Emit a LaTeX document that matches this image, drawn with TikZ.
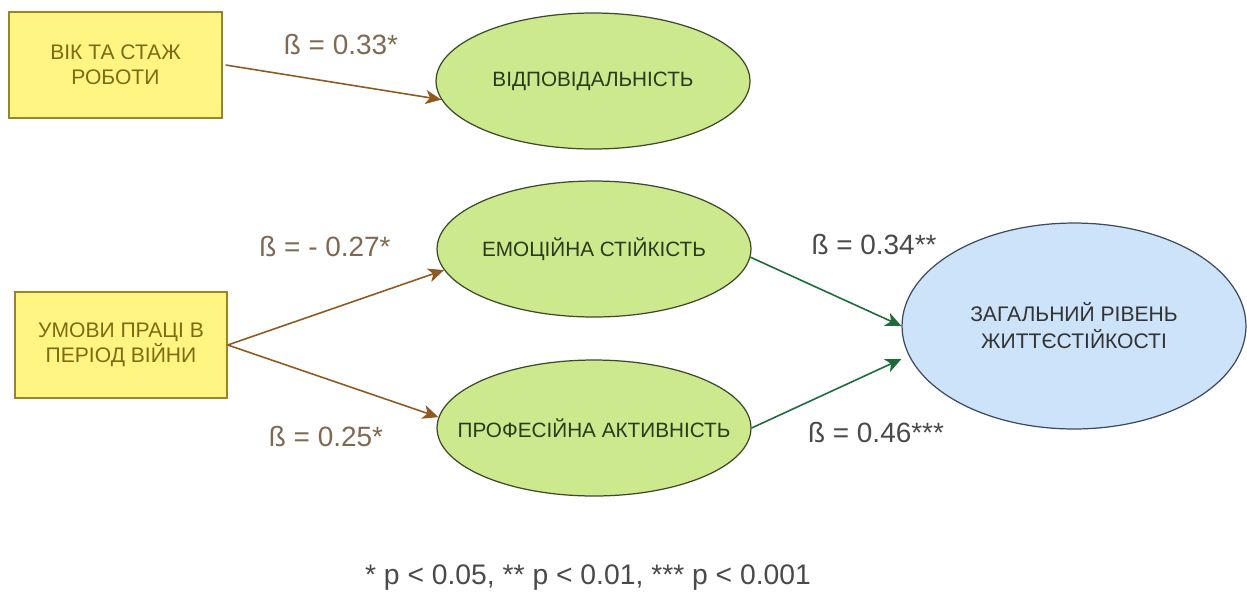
\documentclass[tikz,border=0pt]{standalone}
\usepackage{fontspec}
\setmainfont{Liberation Sans}
\usetikzlibrary{shapes.geometric,arrows.meta,calc}
\definecolor{boxfill}{HTML}{FFF583}
\definecolor{boxline}{HTML}{9A8526}
\definecolor{boxtext}{HTML}{7D6B12}
\definecolor{greenfill}{HTML}{CDE98E}
\definecolor{greenline}{HTML}{3C4A2A}
\definecolor{greentext}{HTML}{2A3A1C}
\definecolor{bluefill}{HTML}{CCE3FA}
\definecolor{blueline}{HTML}{3F4B5A}
\definecolor{bluetext}{HTML}{333333}
\definecolor{brownarrow}{HTML}{8F5A22}
\definecolor{greenarrow}{HTML}{1E6B3C}
\definecolor{brownlabel}{HTML}{7E6A52}
\definecolor{graylabel}{HTML}{4A4A4A}
\tikzset{
  factorbox/.style={draw=boxline, fill=boxfill, line width=0.8pt, rectangle,
    minimum width=4.26cm, minimum height=2.12cm, inner sep=0pt, align=center,
    text=boxtext, font=\fontsize{12}{14.2}\selectfont},
  greenell/.style={draw=greenline, fill=greenfill, line width=0.7pt, ellipse,
    minimum width=6.28cm, minimum height=2.72cm, inner sep=0pt, inner xsep=-2.5cm, align=center,
    text=greentext, font=\fontsize{11.8}{14}\selectfont},
  blueell/.style={draw=blueline, fill=bluefill, line width=0.7pt, ellipse,
    minimum width=6.88cm, minimum height=4.12cm, inner sep=0pt, align=center,
    text=bluetext, font=\fontsize{12}{15.3}\selectfont},
  brownarr/.style={draw=brownarrow, line width=0.9pt, -{Stealth[length=9pt,width=8pt,inset=2.5pt]}},
  greenarr/.style={draw=greenarrow, line width=0.9pt, -{Stealth[length=9pt,width=8pt,inset=2.5pt]}},
  betabrown/.style={text=brownlabel, font=\fontsize{15.9}{17}\selectfont, inner sep=0pt},
  betagray/.style={text=graylabel, font=\fontsize{15.9}{17}\selectfont, inner sep=0pt},
  footnote/.style={text=graylabel, font=\fontsize{16.1}{17}\selectfont, inner sep=0pt}
}
\begin{document}
\begin{tikzpicture}[x=0.02cm,y=-0.02cm]
\path[use as bounding box, fill=white] (0,0) rectangle (1247,596);

\node[factorbox] (b1) at (115.5,65) {ВІК ТА СТАЖ\\РОБОТИ};
\node[factorbox, minimum width=4.24cm] (b2) at (121,345) {УМОВИ ПРАЦІ В\\ПЕРІОД ВІЙНИ};

\node[greenell] (e1) at (593,81) {ВІДПОВІДАЛЬНІСТЬ};
\node[greenell] (e2) at (594,249) {ЕМОЦІЙНА СТІЙКІСТЬ};
\node[greenell] (e3) at (594,428) {ПРОФЕСІЙНА АКТИВНІСТЬ};
\node[blueell] (e4) at (1074,326) {ЗАГАЛЬНИЙ РІВЕНЬ\\ЖИТТЄСТІЙКОСТІ};

\draw[brownarr] ([xshift=0.06cm]b1.east) -- (e1.187);
\draw[brownarr] (b2.east) -- (e2.188);
\draw[brownarr] (b2.east) -- (e3.176);
\draw[greenarr] (e2.-3) -- (e4.west);
\draw[greenarr] (e3.east) -- ([yshift=-0.66cm]e4.west);

\node[betabrown] (l1) at (341,45) {ß = 0.33*};
\node[betabrown] (l2) at (325,247) {ß = - 0.27*};
\node[betabrown] (l3) at (326,437) {ß = 0.25*};
\node[betagray] (l4) at (874,245) {ß = 0.34**};
\node[betagray] (l5) at (876,433) {ß = 0.46***};

\node[footnote] (fn) at (588,578) {* p < 0.05, ** p < 0.01, *** p < 0.001};
\end{tikzpicture}
\end{document}
